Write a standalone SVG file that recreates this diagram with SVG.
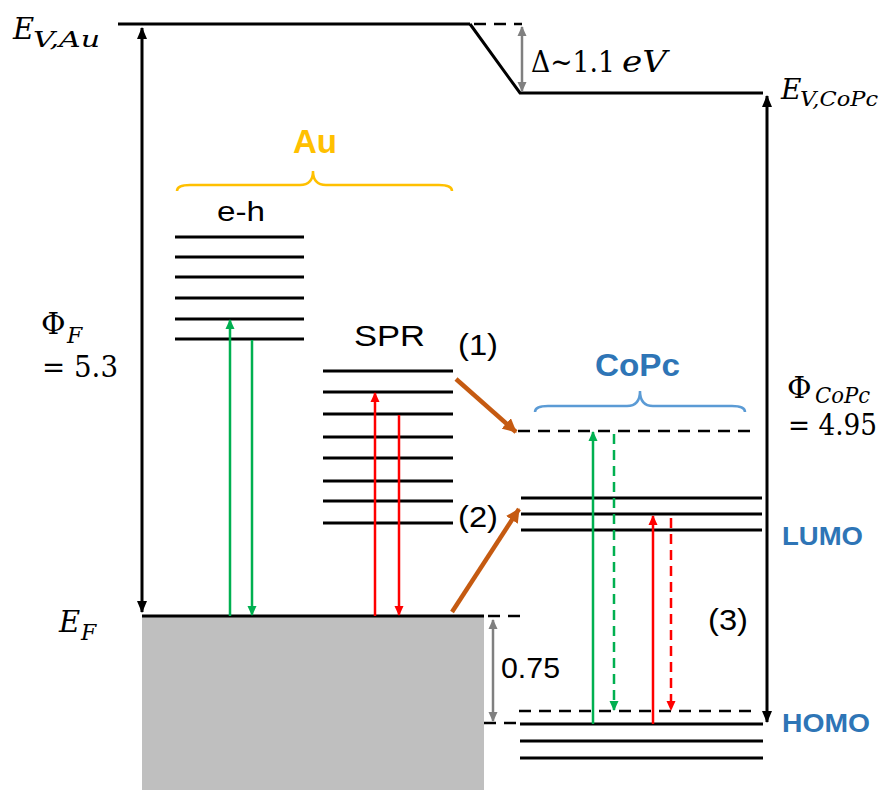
<svg xmlns="http://www.w3.org/2000/svg" width="885" height="790" viewBox="0 0 885 790">
<defs>
<style>
.lv{stroke:#000;stroke-width:3;fill:none}
.dash{stroke:#000;stroke-width:2.5;fill:none;stroke-dasharray:12 8}
.sans{font-family:"Liberation Sans",Arial,sans-serif;fill:#000}
.bold{font-family:"Liberation Sans",Arial,sans-serif;font-weight:bold}
.math{font-family:"DejaVu Serif","Liberation Serif",serif;fill:#000}
.it{font-style:italic}
</style>
<marker id="hk" markerUnits="userSpaceOnUse" markerWidth="12" markerHeight="12" viewBox="0 0 12 12" refX="11" refY="6" orient="auto-start-reverse"><path d="M0,1 L12,6 L0,11 z" fill="#000"/></marker>
<marker id="hg" markerUnits="userSpaceOnUse" markerWidth="10" markerHeight="10" viewBox="0 0 10 10" refX="9" refY="5" orient="auto-start-reverse"><path d="M0,0.5 L10,5 L0,9.5 z" fill="#00B050"/></marker>
<marker id="hr" markerUnits="userSpaceOnUse" markerWidth="10" markerHeight="10" viewBox="0 0 10 10" refX="9" refY="5" orient="auto-start-reverse"><path d="M0,0.5 L10,5 L0,9.5 z" fill="#FF0000"/></marker>
<marker id="hgr" markerUnits="userSpaceOnUse" markerWidth="10" markerHeight="10" viewBox="0 0 10 10" refX="9" refY="5" orient="auto-start-reverse"><path d="M0,0.5 L10,5 L0,9.5 z" fill="#808080"/></marker>
<marker id="ho" markerUnits="userSpaceOnUse" markerWidth="14" markerHeight="14" viewBox="0 0 14 14" refX="13" refY="7" orient="auto"><path d="M0,0 L14,7 L0,14 z" fill="#C55A11"/></marker>
</defs>
<rect width="885" height="790" fill="#fff"/>

<g id="au-metal">
<rect x="142" y="616" width="342" height="174" fill="#BFBFBF"/>
<line class="lv" x1="142" y1="616" x2="484" y2="616"/>
<line class="dash" x1="488" y1="616" x2="527" y2="616"/>
<line class="dash" x1="484" y1="723" x2="519" y2="723"/>
</g>

<g id="vacuum-levels">
<line class="lv" x1="118" y1="24" x2="470" y2="24"/>
<line class="dash" x1="474" y1="24" x2="522" y2="24"/>
<path class="lv" d="M470,24 L520,93 L763,93"/>
</g>

<g id="au-label">
<text class="bold" x="315" y="153" font-size="33" fill="#FFC000" text-anchor="middle">Au</text>
<path d="M177,191 Q177,185 190,185 L300,185 Q313,185 313,171 Q313,185 326,185 L439,185 Q452,185 452,191" fill="none" stroke="#FFC000" stroke-width="2.5"/>
</g>

<g id="eh-levels">
<text class="sans" x="217" y="221" font-size="28" textLength="48" lengthAdjust="spacingAndGlyphs">e-h</text>
<path class="lv" d="M175,237H304M175,257H304M175,277H304M175,298H304M175,319H304M175,339H304"/>
</g>

<g id="spr-levels">
<text class="sans" x="354" y="346" font-size="30" textLength="71" lengthAdjust="spacingAndGlyphs">SPR</text>
<path class="lv" d="M323,371H453M323,392H453M323,414H453M323,437H453M323,458H453M323,481H453M323,501H453M323,523H453"/>
</g>

<g id="copc-label">
<text class="bold" x="595" y="376" font-size="31" fill="#2E75B6" textLength="85" lengthAdjust="spacingAndGlyphs">CoPc</text>
<path d="M535,412 Q535,406 548,406 L627,406 Q640,406 640,391 Q640,406 653,406 L732,406 Q745,406 745,412" fill="none" stroke="#5B9BD5" stroke-width="2.5"/>
</g>

<g id="copc-excited">
<line class="dash" x1="518" y1="431" x2="757" y2="431"/>
</g>

<g id="lumo">
<path class="lv" d="M521,498H762M521,514H762M521,530H762"/>
<text class="bold" x="782" y="545" font-size="26" fill="#2E75B6" textLength="81" lengthAdjust="spacingAndGlyphs">LUMO</text>
</g>

<g id="homo">
<line class="dash" x1="519" y1="711" x2="757" y2="711"/>
<path class="lv" d="M520,724H763M520,741H763M520,758H763"/>
<text class="bold" x="782" y="732" font-size="26" fill="#2E75B6" textLength="88" lengthAdjust="spacingAndGlyphs">HOMO</text>
</g>

<g id="labels">
<text class="math it" x="13" y="39" font-size="29">E</text>
<text class="math it" x="33" y="47" font-size="22" textLength="67" lengthAdjust="spacingAndGlyphs">V,Au</text>
<text class="math" x="531" y="72" font-size="30" textLength="84" lengthAdjust="spacingAndGlyphs">Δ~1.1</text>
<text class="math it" x="622" y="72" font-size="30" textLength="45" lengthAdjust="spacingAndGlyphs">eV</text>
<text class="math it" x="781" y="99" font-size="28">E</text>
<text class="math it" x="800" y="106" font-size="20" textLength="78" lengthAdjust="spacingAndGlyphs">V,CoPc</text>
<text class="math" x="41" y="334" font-size="30">Φ</text>
<text class="math it" x="67" y="343" font-size="22">F</text>
<text class="math" x="42" y="377" font-size="30" textLength="76" lengthAdjust="spacingAndGlyphs">= 5.3</text>
<text class="math" x="787" y="398" font-size="30">Φ</text>
<text class="math it" x="815" y="403" font-size="22" textLength="55" lengthAdjust="spacingAndGlyphs">CoPc</text>
<text class="math" x="788" y="435" font-size="29" textLength="89" lengthAdjust="spacingAndGlyphs">= 4.95</text>
<text class="math it" x="59" y="632" font-size="29">E</text>
<text class="math it" x="81" y="640" font-size="22">F</text>
<text class="sans" x="458" y="355" font-size="30" textLength="40" lengthAdjust="spacingAndGlyphs">(1)</text>
<text class="sans" x="458" y="527" font-size="30" textLength="40" lengthAdjust="spacingAndGlyphs">(2)</text>
<text class="sans" x="708" y="630" font-size="30" textLength="40" lengthAdjust="spacingAndGlyphs">(3)</text>
<text class="sans" x="501" y="678" font-size="29" textLength="59" lengthAdjust="spacingAndGlyphs">0.75</text>
</g>

<g id="connectors">
<line x1="142" y1="28" x2="142" y2="612" stroke="#000" stroke-width="3" marker-start="url(#hk)" marker-end="url(#hk)"/>
<line x1="767" y1="96" x2="767" y2="722" stroke="#000" stroke-width="3" marker-start="url(#hk)" marker-end="url(#hk)"/>
<line x1="522" y1="27" x2="522" y2="91" stroke="#808080" stroke-width="2.5" marker-start="url(#hgr)" marker-end="url(#hgr)"/>
<line x1="493" y1="620" x2="493" y2="721" stroke="#808080" stroke-width="2.5" marker-start="url(#hgr)" marker-end="url(#hgr)"/>
<line x1="230" y1="616" x2="230" y2="320" stroke="#00B050" stroke-width="2.5" marker-end="url(#hg)"/>
<line x1="252" y1="340" x2="252" y2="615" stroke="#00B050" stroke-width="2.5" marker-end="url(#hg)"/>
<line x1="375" y1="616" x2="375" y2="393" stroke="#FF0000" stroke-width="2.5" marker-end="url(#hr)"/>
<line x1="399" y1="415" x2="399" y2="615" stroke="#FF0000" stroke-width="2.5" marker-end="url(#hr)"/>
<line x1="593" y1="724" x2="593" y2="432" stroke="#00B050" stroke-width="2.5" marker-end="url(#hg)"/>
<line x1="614" y1="434" x2="614" y2="710" stroke="#00B050" stroke-width="2.5" stroke-dasharray="10 6" marker-end="url(#hg)"/>
<line x1="653" y1="724" x2="653" y2="516" stroke="#FF0000" stroke-width="2.5" marker-end="url(#hr)"/>
<line x1="671" y1="518" x2="671" y2="710" stroke="#FF0000" stroke-width="2.5" stroke-dasharray="10 6" marker-end="url(#hr)"/>
<line x1="456" y1="379" x2="516" y2="432" stroke="#C55A11" stroke-width="4.5" marker-end="url(#ho)"/>
<line x1="452" y1="612" x2="519" y2="509" stroke="#C55A11" stroke-width="4.5" marker-end="url(#ho)"/>
</g>
</svg>
